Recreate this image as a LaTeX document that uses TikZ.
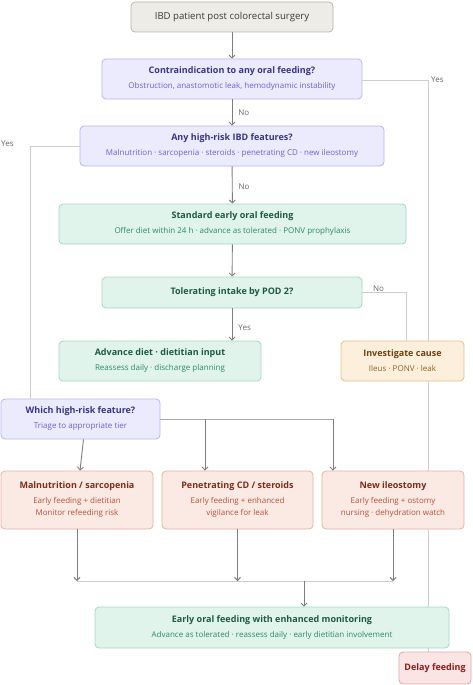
\documentclass[tikz,border=0pt]{standalone}
\usepackage{fontspec}
\setmainfont{Open Sans}
\usetikzlibrary{arrows.meta,calc}
\definecolor{stfill}{HTML}{EEECE6}\definecolor{stdraw}{HTML}{B8B5AC}\definecolor{sttext}{HTML}{3A3A3A}
\definecolor{lvfill}{HTML}{ECEBFD}\definecolor{lvdraw}{HTML}{B9B3F1}\definecolor{lvtitle}{HTML}{3B3486}\definecolor{lvsub}{HTML}{6C60D4}
\definecolor{grfill}{HTML}{E1F4EC}\definecolor{grdraw}{HTML}{A3D8C2}\definecolor{grtitle}{HTML}{1D5A42}\definecolor{grsub}{HTML}{2A8A64}
\definecolor{orfill}{HTML}{FCEFDC}\definecolor{ordraw}{HTML}{E6C08E}\definecolor{ortitle}{HTML}{6B4212}\definecolor{orsub}{HTML}{94601F}
\definecolor{pkfill}{HTML}{FBE9E3}\definecolor{pkdraw}{HTML}{E7B3A3}\definecolor{pktitle}{HTML}{7C2D1B}\definecolor{pksub}{HTML}{B4533A}
\definecolor{rdfill}{HTML}{FBE4E4}\definecolor{rddraw}{HTML}{E6A6A6}\definecolor{rdtitle}{HTML}{8C1D1D}
\definecolor{arrowgray}{HTML}{7E7E7E}\definecolor{lightgray}{HTML}{CDCDCD}\definecolor{midgray}{HTML}{A8A8A8}\definecolor{labgray}{HTML}{666666}
\newcommand{\tsz}{\fontsize{9}{11}\selectfont\bfseries}
\newcommand{\ssz}{\fontsize{8}{11}\selectfont}
\tikzset{
  box/.style={rectangle, rounded corners=4pt, line width=0.8pt, align=center, inner sep=0pt},
  stbox/.style={box, fill=stfill, draw=stdraw, text=sttext},
  lvbox/.style={box, fill=lvfill, draw=lvdraw, text=lvtitle},
  grbox/.style={box, fill=grfill, draw=grdraw, text=grtitle},
  orbox/.style={box, fill=orfill, draw=ordraw, text=ortitle},
  pkbox/.style={box, fill=pkfill, draw=pkdraw, text=pktitle},
  rdbox/.style={box, fill=rdfill, draw=rddraw, text=rdtitle},
  flow/.style={draw=arrowgray, line width=0.9pt, -{Straight Barb[length=3pt,width=6pt]}},
  side/.style={draw=lightgray, line width=0.9pt},
  midline/.style={draw=midgray, line width=0.9pt},
  lab/.style={text=labgray, font=\fontsize{8}{9}\selectfont, inner sep=0pt}
}
\begin{document}
\begin{tikzpicture}[x=1pt,y=-1pt]
\useasboundingbox (0,0) rectangle (472,685);
% side lines first (behind boxes)
\coordinate (yesR) at (428,80);
\coordinate (yesL) at (30,146);
\draw[side] (428,80) -- (428,652);
% nodes
\node[stbox, minimum width=202pt, minimum height=30pt] (start) at (232,17) {\fontsize{9.6}{11}\selectfont IBD patient post colorectal surgery};
\node[lvbox, minimum width=260pt, minimum height=40pt] (contra) at (232,79) {\tsz Contraindication to any oral feeding?\\[3pt]\ssz\color{lvsub}Obstruction, anastomotic leak, hemodynamic instability};
\node[lvbox, minimum width=304pt, minimum height=40pt] (high) at (232,146) {\tsz Any high-risk IBD features?\\[3pt]\ssz\color{lvsub}Malnutrition · sarcopenia · steroids · penetrating CD · new ileostomy};
\node[grbox, minimum width=347pt, minimum height=40pt] (std) at (232.5,224) {\tsz Standard early oral feeding\\[3pt]\ssz\color{grsub}Offer diet within 24 h · advance as tolerated · PONV prophylaxis};
\node[grbox, minimum width=260pt, minimum height=31pt] (tol) at (232,292.5) {\tsz Tolerating intake by POD 2?};
\node[grbox, minimum width=202pt, minimum height=40pt] (adv) at (160,361) {\tsz Advance diet · dietitian input\\[3pt]\ssz\color{grsub}Reassess daily · discharge planning};
\node[orbox, minimum width=123pt, minimum height=40pt] (inv) at (402.5,361) {\tsz Investigate cause\\[3pt]\ssz\color{orsub}Ileus · PONV · leak};
\node[lvbox, minimum width=159pt, minimum height=40pt] (which) at (80.5,419) {\tsz Which high-risk feature?\\[3pt]\ssz\color{lvsub}Triage to appropriate tier};
\node[pkbox, minimum width=152pt, minimum height=58pt] (mal) at (77,500) {\tsz Malnutrition / sarcopenia\\[3pt]\ssz\color{pksub}Early feeding + dietitian\\\ssz\color{pksub}Monitor refeeding risk};
\node[pkbox, minimum width=151pt, minimum height=58pt] (pen) at (237.5,500) {\tsz Penetrating CD / steroids\\[3pt]\ssz\color{pksub}Early feeding + enhanced\\\ssz\color{pksub}vigilance for leak};
\node[pkbox, minimum width=142pt, minimum height=58pt] (ile) at (393,500) {\tsz New ileostomy\\[3pt]\ssz\color{pksub}Early feeding + ostomy\\\ssz\color{pksub}nursing · dehydration watch};
\node[grbox, minimum width=354pt, minimum height=41pt] (early) at (272,627.5) {\tsz Early oral feeding with enhanced monitoring\\[3pt]\ssz\color{grsub}Advance as tolerated · reassess daily · early dietitian involvement};
\node[rdbox, minimum width=72pt, minimum height=32pt] (delay) at (435,668) {\tsz Delay feeding};
% side connectors
\draw[side] (contra.east |- yesR) -- (yesR);
\node[lab, anchor=west] (yes1) at (431,80) {Yes};
\draw[side] (high.west |- yesL) -- (yesL) -- (yesL |- which.north);
\node[lab, anchor=west] (yes2) at (1,144) {Yes};
\draw[side] (tol.east) -| ([xshift=3.5pt]inv.north);
\node[lab, anchor=west] (no3) at (373,289) {No};
% main flow
\draw[flow] (start) -- (contra);
\draw[flow] (contra) -- (high) node[lab, pos=0.5, right=6pt] (no1) {No};
\draw[flow] (high) -- (std) node[lab, pos=0.55, right=6pt] (no2) {No};
\draw[flow] (std) -- (tol);
\draw[flow] (tol.south) -- (tol.south |- adv.north) node[lab, pos=0.6, right=6pt] (yes3) {Yes};
% triage
\coordinate (br1) at (205,419);
\coordinate (br2) at (333,419);
\draw[midline] (which.east) -- (br2);
\draw[flow] (br1) -- (br1 |- pen.north);
\draw[flow] (br2) -- (br2 |- ile.north);
\draw[flow] ([xshift=3pt]which.south) -- ([xshift=3pt]mal.north);
% merge
\coordinate (m1) at (77,581);
\coordinate (m3) at (393,581);
\coordinate (mc) at (304,581);
\draw[side] (m1) -- (m3);
\draw[flow] (mal.south) -- (m1);
\draw[flow] (pen.south) -- (pen.south |- m1);
\draw[flow] (ile.south) -- (m3);
\draw[flow] (mc) -- (mc |- early.north);
\end{tikzpicture}
\end{document}
